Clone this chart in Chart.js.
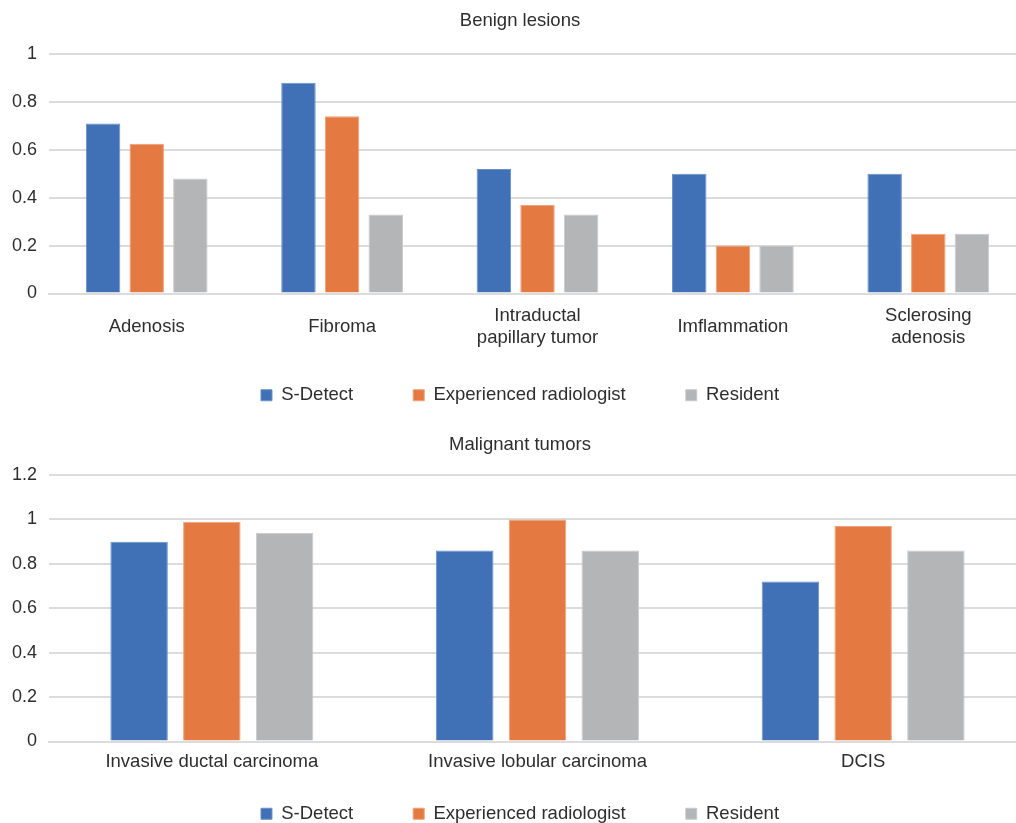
<!DOCTYPE html>
<html>
<head>
<meta charset="utf-8">
<script src="https://cdn.jsdelivr.net/npm/chart.js@4"></script>
<style>
  html, body { margin: 0; padding: 0; background: #fff; overflow: hidden; width: 1016px; height: 823px; }
  #top { position: absolute; left: 0; top: 0; width: 1036px; height: 415px; }
  #bot { position: absolute; left: 0; top: 423px; width: 1036px; height: 400px; }
</style>
</head>
<body>
<div id="top"><canvas id="c1"></canvas></div>
<div id="bot"><canvas id="c2"></canvas></div>
<script>
const seriesNames = ["S-Detect", "Experienced radiologist", "Resident"];
const benignCategories = ["Adenosis", "Fibroma", ["Intraductal", "papillary tumor"], "Imflammation", ["Sclerosing", "adenosis"]];
const benignSDetect = [0.71, 0.88, 0.52, 0.50, 0.50];
const benignExperienced = [0.625, 0.74, 0.37, 0.20, 0.25];
const benignResident = [0.48, 0.33, 0.33, 0.20, 0.25];
const benignTicks = [0, 0.2, 0.4, 0.6, 0.8, 1];

const malignantCategories = ["Invasive ductal carcinoma", "Invasive lobular carcinoma", "DCIS"];
const malignantSDetect = [0.90, 0.86, 0.72];
const malignantExperienced = [0.99, 1.00, 0.97];
const malignantResident = [0.94, 0.86, 0.86];
const malignantTicks = [0, 0.2, 0.4, 0.6, 0.8, 1, 1.2];

const colors = ["#4070b5", "#e47942", "#b4b5b7"];
const edgeColors = ["#6a90c8", "#eea07a", "#cacacb"];
const FONT = "'Liberation Sans', Arial, sans-serif";
const TEXT = "#2e2e2e";
const GRID = "#dcdcdc";

function makeChart(id, title, cats, s1, s2, s3, ticks, maxV, cfg) {
  const chart = new Chart(document.getElementById(id), {
    type: 'bar',
    data: {
      labels: cats,
      datasets: [s1, s2, s3].map((d, i) => ({
        label: seriesNames[i],
        data: d,
        backgroundColor: colors[i],
        borderColor: edgeColors[i],
        borderWidth: 1,
        categoryPercentage: 0.67,
        barPercentage: 0.79
      }))
    },
    options: {
      responsive: true,
      maintainAspectRatio: false,
      animation: false,
      layout: { padding: { left: 14, right: 10, top: 0, bottom: 0 } },
      plugins: {
        title: {
          display: true, text: title, color: TEXT,
          font: { family: FONT, size: 18.5, weight: 'normal' },
          padding: { top: cfg.titleTop, bottom: cfg.titleGap }
        },
        legend: {
          position: 'bottom',
          labels: {
            color: TEXT, boxWidth: 11, boxHeight: 11, padding: 60,
            font: { family: FONT, size: 18.5 }
          }
        },
        tooltip: { enabled: false }
      },
      scales: {
        x: {
          afterFit: (s) => { s.height = cfg.xAxisH; },
          grid: { display: false, drawTicks: false },
          border: { display: true, color: GRID, width: 2 },
          ticks: {
            color: TEXT, font: { family: FONT, size: 18.5 }, padding: cfg.xPad,
            crossAlign: 'center', maxRotation: 0, autoSkip: false
          }
        },
        y: {
          min: 0, max: maxV,
          afterBuildTicks: (s) => { s.ticks = ticks.map(v => ({ value: v })); },
          afterFit: (s) => { s.width = 35; },
          grid: { color: GRID, lineWidth: 2, drawTicks: false },
          border: { display: false },
          ticks: {
            color: TEXT, font: { family: FONT, size: 18 }, padding: 12,
            callback: (v) => String(v)
          }
        }
      }
    }
  });
  // keep wide horizontal legend spacing without the matching vertical gap
  const lg = chart.legend;
  const origFit = lg.fit.bind(lg);
  lg.fit = function () { origFit(); this.height = cfg.legendH; };
  // tick labels may extend outside their (compressed) axis boxes
  chart.scales.x._computeLabelArea = () => undefined;
  chart.scales.y._computeLabelArea = () => undefined;
  chart.update();
  return chart;
}

makeChart('c1', 'Benign lesions', benignCategories, benignSDetect, benignExperienced, benignResident, benignTicks, 1,
  { titleTop: 9.5, titleGap: 22.3, xPad: 22.4, xAxisH: 32.5, legendH: 89 });
makeChart('c2', 'Malignant tumors', malignantCategories, malignantSDetect, malignantExperienced, malignantResident, malignantTicks, 1.2,
  { titleTop: 11, titleGap: 18.8, xPad: 20, xAxisH: 3, legendH: 78.5 });
</script>
</body>
</html>
